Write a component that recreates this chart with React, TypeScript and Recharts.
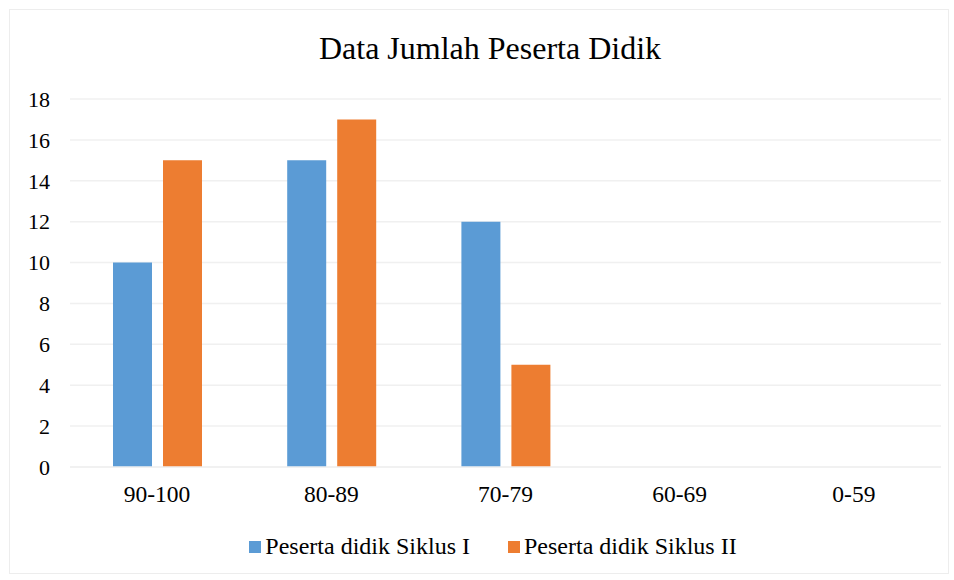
import { Bar, BarChart, CartesianGrid, XAxis, YAxis } from "recharts";

const categories = ["90-100", "80-89", "70-79", "60-69", "0-59"];
const siklusI = [10, 15, 12, 0, 0];
const siklusII = [15, 17, 5, 0, 0];
const yTicks = [0, 2, 4, 6, 8, 10, 12, 14, 16, 18];

const seriesNames = ["Peserta didik Siklus I", "Peserta didik Siklus II"];
const seriesColors = ["#5B9BD5", "#ED7D31"];

const rows = categories.map((name, i) => ({
  name,
  s1: siklusI[i],
  s2: siklusII[i],
}));

const font = "'Liberation Serif', Tinos, Times, 'DejaVu Serif', serif";

export default function App() {
  return (
    <div
      style={{
        position: "absolute",
        left: 0,
        top: 0,
        width: 954,
        height: 580,
        background: "#fff",
        fontFamily: font,
      }}
    >
      <div
        style={{
          position: "absolute",
          left: 9,
          top: 9,
          width: 938,
          height: 563,
          border: "1px solid #ededed",
        }}
      />
      <div
        style={{
          position: "absolute",
          left: 0,
          width: 980,
          top: 30,
          textAlign: "center",
          fontSize: 32,
          color: "#000",
        }}
      >
        Data Jumlah Peserta Didik
      </div>

      <BarChart
        width={954}
        height={580}
        data={rows}
        margin={{ top: 99, right: 13, bottom: 0, left: 0 }}
        barSize={39}
        barGap={11}
        style={{ position: "absolute", left: 0, top: 0 }}
      >
        <CartesianGrid vertical={false} stroke="#f0f0f0" strokeWidth={1.5} />
        <XAxis
          dataKey="name"
          height={113}
          tickLine={false}
          tickSize={0}
          tickMargin={18}
          axisLine={{ stroke: "#f0f0f0", strokeWidth: 1.5 }}
          tick={{ fill: "#000", fontSize: 23.5, fontFamily: font }}
        />
        <YAxis
          width={70}
          domain={[0, 18]}
          ticks={yTicks}
          interval={0}
          axisLine={false}
          tickLine={false}
          tickSize={0}
          tickMargin={20}
          tick={{ fill: "#000", fontSize: 22, fontFamily: font }}
        />
        <Bar dataKey="s1" name={seriesNames[0]} fill={seriesColors[0]} isAnimationActive={false} />
        <Bar dataKey="s2" name={seriesNames[1]} fill={seriesColors[1]} isAnimationActive={false} />
      </BarChart>

      <div
        style={{
          position: "absolute",
          top: 533,
          left: 0,
          width: 954,
          display: "flex",
          justifyContent: "center",
          gap: 38,
          fontSize: 24,
          paddingLeft: 32,
          boxSizing: "border-box",
        }}
      >
        {seriesNames.map((n, i) => (
          <div key={n} style={{ display: "flex", alignItems: "center" }}>
            <span
              style={{
                display: "inline-block",
                width: 12,
                height: 12,
                background: seriesColors[i],
                marginRight: 4,
              }}
            />
            <span>{n}</span>
          </div>
        ))}
      </div>
    </div>
  );
}
